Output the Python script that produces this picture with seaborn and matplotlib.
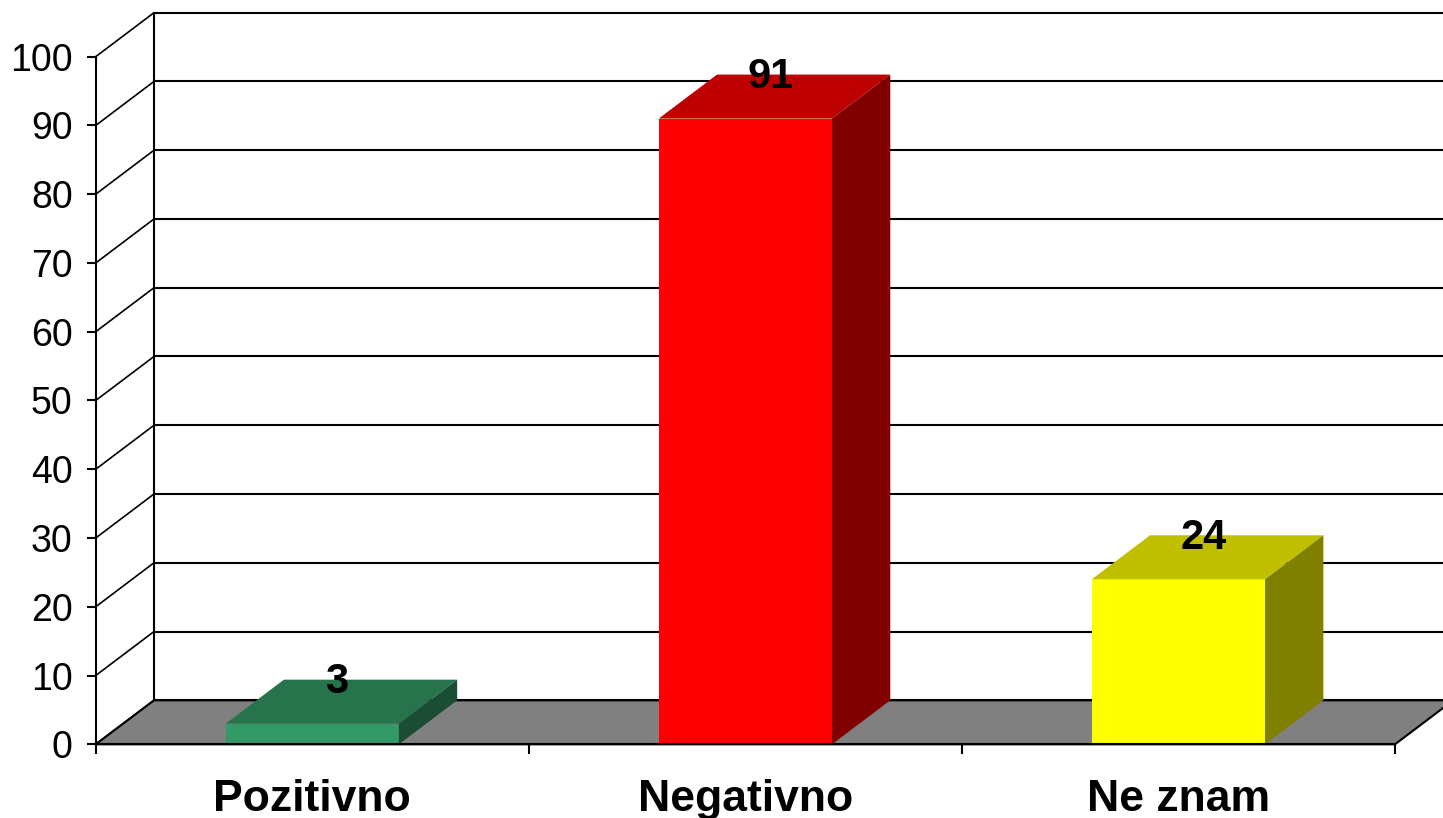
import matplotlib
matplotlib.use("Agg")
import matplotlib.pyplot as plt
from matplotlib.patches import Polygon
import seaborn as sns
import pandas as pd

# chart data
categories = ["Pozitivno", "Negativno", "Ne znam"]
values = [3, 91, 24]
front_colors = ["#339966", "#FF0000", "#FFFF00"]
top_colors = ["#26734C", "#BF0000", "#BFBF00"]
side_colors = ["#1A4D33", "#800000", "#808000"]
yticks = list(range(0, 101, 10))

# fake 3d depth (in data units)
DX = 0.1346
DY = 6.4

sns.set_theme(style="white")
plt.rcParams["font.family"] = ["Liberation Sans", "DejaVu Sans"]
plt.rcParams["text.color"] = "black"
plt.rcParams["xtick.color"] = "black"
plt.rcParams["ytick.color"] = "black"

W, H = 1443, 818
fig = plt.figure(figsize=(W / 100, H / 100), dpi=100)
ax = fig.add_axes([95.7 / W, (H - 744.3) / H, (1395 - 95.7) / W, 687.6 / H])
ax.set_facecolor("none")

df = pd.DataFrame({"cat": categories, "val": values})
sns.barplot(data=df, x="cat", y="val", hue="cat", palette=front_colors,
            width=0.4, saturation=1, legend=False, ax=ax, zorder=5)
ax.set_xlim(-0.5, 2.5)
ax.set_ylim(0, 100)

# back wall, gridlines and floor
x0, x1 = -0.5, 2.5
floor = Polygon([(x0, 0), (x1, 0), (x1 + DX, DY), (x0 + DX, DY)], closed=True,
                facecolor="#808080", edgecolor="black", lw=1.5, zorder=1, clip_on=False)
ax.add_patch(floor)
ax.plot([x0 + DX, x0 + DX], [DY, 100 + DY], color="black", lw=1.5, clip_on=False, zorder=2)
for v in yticks:
    ax.plot([x0 + DX, x1 + DX + 0.2], [v + DY, v + DY], color="black", lw=1.5,
            clip_on=False, zorder=2)
    ax.plot([x0, x0 + DX], [v, v + DY], color="black", lw=1.2, clip_on=False, zorder=2)

# 3d faces of the bars
for i, p in enumerate(ax.patches[:len(values)]):
    p.set_edgecolor("none")
    bx, bw, bh = p.get_x(), p.get_width(), p.get_height()
    top = Polygon([(bx, bh), (bx + bw, bh), (bx + bw + DX, bh + DY), (bx + DX, bh + DY)],
                  closed=True, facecolor=top_colors[i], edgecolor="none", zorder=6, clip_on=False)
    side = Polygon([(bx + bw, 0), (bx + bw + DX, DY), (bx + bw + DX, bh + DY), (bx + bw, bh)],
                   closed=True, facecolor=side_colors[i], edgecolor="none", zorder=6, clip_on=False)
    ax.add_patch(top)
    ax.add_patch(side)
    ax.text(bx + bw / 2 + DX / 2 - 0.01, bh + DY - 0.4, str(values[i]), ha="center", va="center",
            fontsize=30, fontweight="bold", color="black", zorder=10, clip_on=False)

# axes styling
for s in ["top", "right"]:
    ax.spines[s].set_visible(False)
for s in ["left", "bottom"]:
    ax.spines[s].set_color("black")
    ax.spines[s].set_linewidth(1.5)
    ax.spines[s].set_zorder(7)
ax.set_yticks(yticks)
ax.set_yticklabels([str(v) for v in yticks], fontsize=27, color="black")
ax.tick_params(axis="y", length=6.5, width=1.5, color="black", pad=10, left=True)
ax.set_xticks(range(len(categories)))
ax.set_xticklabels(categories, fontsize=32, fontweight="bold", color="black")
ax.tick_params(axis="x", length=0, pad=25)
ax.set_xticks([-0.5, 0.5, 1.5, 2.5], minor=True)
ax.tick_params(axis="x", which="minor", length=7, width=1.5, color="black", bottom=True)
ax.set_xlabel("")
ax.set_ylabel("")

fig.savefig("out.png", dpi=100)
